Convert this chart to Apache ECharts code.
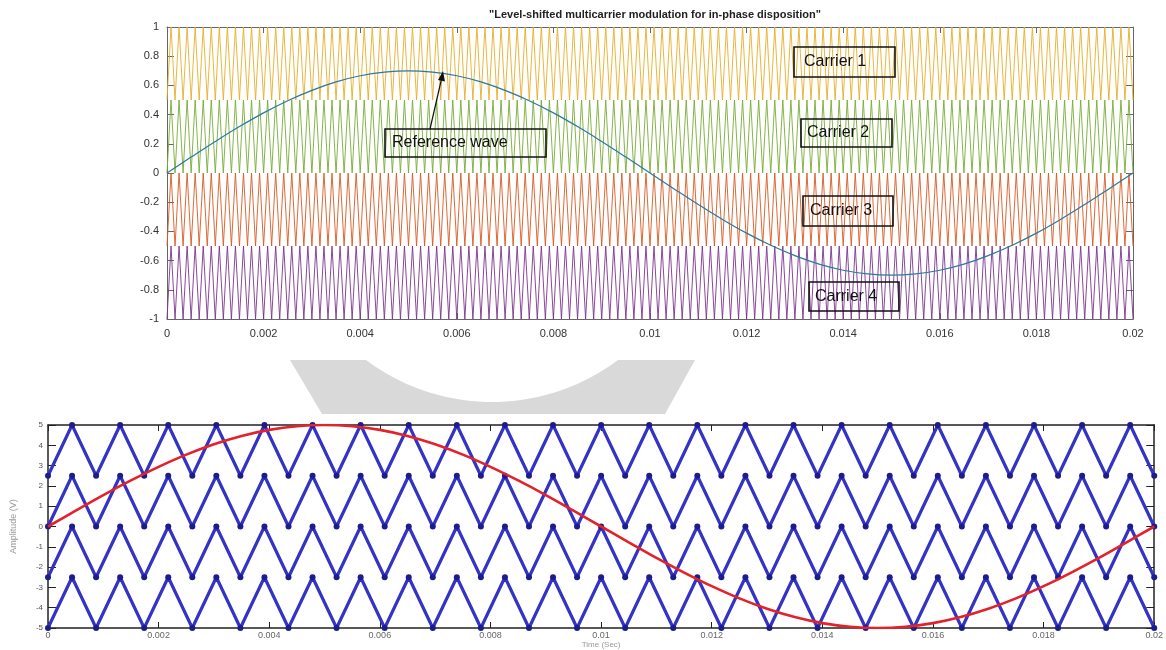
<!DOCTYPE html>
<html><head><meta charset="utf-8">
<script src="https://cdn.jsdelivr.net/npm/echarts@6/dist/echarts.min.js"></script>
<style>html,body{margin:0;padding:0;background:#fff}#c{width:1166px;height:650px}</style>
</head><body><div id="c"></div>
<script>
// ---------- data ----------
const titleText = '"Level-shifted multicarrier modulation for in-phase disposition"';
const xMax = 0.02;
const xTickLabels = ['0','0.002','0.004','0.006','0.008','0.01','0.012','0.014','0.016','0.018','0.02'];
const topYTickLabels = ['-1','-0.8','-0.6','-0.4','-0.2','0','0.2','0.4','0.6','0.8','1'];
const bottomYTickLabels = ['-5','-4','-3','-2','-1','0','1','2','3','4','5'];
const carrierNames = ['Carrier 1','Carrier 2','Carrier 3','Carrier 4'];
const topCarrierBands = [[0.5,1],[0,0.5],[-0.5,0],[-1,-0.5]];
const bottomCarrierBands = [[2.5,5],[0,2.5],[-2.5,0],[-5,-2.5]];
const topCarrierCycles = 120;
const bottomCarrierCycles = 23;
const refTimes = [0,0.0005,0.001,0.0015,0.002,0.0025,0.003,0.0035,0.004,0.0045,0.005,0.0055,0.006,0.0065,0.007,0.0075,0.008,0.0085,0.009,0.0095,0.01,0.0105,0.011,0.0115,0.012,0.0125,0.013,0.0135,0.014,0.0145,0.015,0.0155,0.016,0.0165,0.017,0.0175,0.018,0.0185,0.019,0.0195,0.02];
const topRefValues = [0,0.109,0.216,0.318,0.412,0.495,0.566,0.624,0.666,0.691,0.70,0.691,0.666,0.624,0.566,0.495,0.412,0.318,0.216,0.109,0,-0.109,-0.216,-0.318,-0.412,-0.495,-0.566,-0.624,-0.666,-0.691,-0.70,-0.691,-0.666,-0.624,-0.566,-0.495,-0.412,-0.318,-0.216,-0.109,0];
const bottomRefValues = [0,0.78,1.55,2.27,2.94,3.54,4.05,4.46,4.76,4.94,5,4.94,4.76,4.46,4.05,3.54,2.94,2.27,1.55,0.78,0,-0.78,-1.55,-2.27,-2.94,-3.54,-4.05,-4.46,-4.76,-4.94,-5,-4.94,-4.76,-4.46,-4.05,-3.54,-2.94,-2.27,-1.55,-0.78,0];

// ---------- helpers ----------
function carrierVertices(band, cycles){
  const pts = [];
  for (let k = 0; k <= 2*cycles; k++) pts.push([xMax*k/(2*cycles), k%2===0 ? band[0] : band[1]]);
  return pts;
}
function pairs(xs, ys){ return xs.map((x,i)=>[x, ys[i]]); }
function xLabel(v){ const i = Math.round(v/0.002); return xTickLabels[i] ?? ''; }
function yLabel(arr, step, min){ return v => arr[Math.round((v-min)/step)] ?? ''; }

const topColors = ['#E9AE2A','#79AC36','#D95A22','#7E3490'];
const font = 'Liberation Sans, Arial, sans-serif';

const series = [];
topCarrierBands.forEach((b,i)=>series.push({
  name: carrierNames[i], type:'line', xAxisIndex:0, yAxisIndex:0,
  data: carrierVertices(b, topCarrierCycles), showSymbol:false, silent:true,
  lineStyle:{color: topColors[i], width:1, opacity:0.9}, z:2
}));
series.push({name:'Reference wave', type:'line', xAxisIndex:0, yAxisIndex:0,
  data: pairs(refTimes, topRefValues), smooth:0.4, showSymbol:false,
  lineStyle:{color:'#2a7a9e', width:1.2}, z:5});
bottomCarrierBands.forEach((b,i)=>series.push({
  name: 'bc'+i, type:'line', xAxisIndex:2, yAxisIndex:2,
  data: carrierVertices(b, bottomCarrierCycles), symbol:'circle', symbolSize:6, showSymbol:true,
  itemStyle:{color:'#1c1c8c'}, lineStyle:{color:'#3434c4', width:3.2}, z:2
}));
series.push({name:'ref2', type:'line', xAxisIndex:2, yAxisIndex:2,
  data: pairs(refTimes, bottomRefValues), smooth:0.4, showSymbol:false,
  lineStyle:{color:'#e3222c', width:2.6}, z:5});

// watermark ring segment
const wm = [[290,360],[366,360]];
const a0 = Math.atan2(168,-126), a1 = Math.atan2(168,126);
for (let s=1; s<40; s++){ const a = a0 + (a1-a0)*s/40; wm.push([492+210*Math.cos(a), 192+210*Math.sin(a)]); }
wm.push([618,360],[695,360],[665,414],[322,414]);

function box(x,y,w,h,text,tx){
  return [
    {type:'rect', shape:{x,y,width:w,height:h}, style:{fill:'rgba(0,0,0,0)', stroke:'#111', lineWidth:1.6}, z:20},
    {type:'text', x: tx, y: y+h/2, style:{text, font:'16px '+font, fill:'#111', textVerticalAlign:'middle'}, z:21}
  ];
}

const topLine = {color:'#666', width:1};
const botLine = {color:'#222', width:1.5};
function xAx(grid, pos, line, labels, extra){
  return Object.assign({gridIndex:grid, type:'value', min:0, max:xMax, interval:0.002, position:pos,
    axisLine:{show:true, onZero:false, lineStyle:line},
    axisTick:{show:true, inside:true, length:6, lineStyle:{color:line.color}},
    axisLabel: labels, splitLine:{show:false}}, extra||{});
}
function yAx(grid, pos, min, max, step, line, tl, labels, extra){
  return Object.assign({gridIndex:grid, type:'value', min, max, interval:step, position:pos,
    axisLine:{show:true, onZero:false, lineStyle:line},
    axisTick:{show:true, inside:true, length:tl, lineStyle:{color:line.color}},
    axisLabel: labels, splitLine:{show:false}}, extra||{});
}

const option = {
  animation:false,
  backgroundColor:'#fff',
  title:{text:titleText, left:650, top:4, textAlign:'center',
    textStyle:{fontSize:11, fontWeight:'bold', color:'#222', fontFamily:font}},
  grid:[
    {left:167, top:27, width:966, height:292},
    {left:48, top:425, width:1110, height:207}
  ],
  xAxis:[
    xAx(0,'bottom',topLine,{formatter:xLabel, fontSize:11, color:'#333', margin:9, fontFamily:font}),
    xAx(0,'top',topLine,{show:false}),
    xAx(1,'bottom',botLine,{formatter:xLabel, fontSize:9, color:'#666', margin:3, fontFamily:font},
      {name:'Time (Sec)', nameLocation:'middle', nameGap:13, nameTextStyle:{fontSize:8, color:'#999', fontFamily:font}}),
    xAx(1,'top',botLine,{show:false})
  ],
  yAxis:[
    yAx(0,'left',-1,1,0.2,topLine,7,{formatter:yLabel(topYTickLabels,0.2,-1), fontSize:11, color:'#333', margin:8, fontFamily:font}),
    yAx(0,'right',-1,1,0.2,topLine,7,{show:false}),
    yAx(1,'left',-5,5,1,botLine,8,{formatter:yLabel(bottomYTickLabels,1,-5), fontSize:8, color:'#555', margin:5, fontFamily:font},
      {name:'Amplitude (V)', nameLocation:'middle', nameGap:30, nameRotate:90, nameTextStyle:{fontSize:9, color:'#999', fontFamily:font}}),
    yAx(1,'right',-5,5,1,botLine,8,{show:false})
  ],
  series,
  graphic:[
    {type:'polygon', shape:{points:wm}, style:{fill:'#d9d9d9'}, z:-10, silent:true},
    ...box(794,47,101,30,carrierNames[0],804),
    ...box(801,119,91,28,carrierNames[1],807),
    ...box(803,196,90,30,carrierNames[2],810),
    ...box(809,282,90,29,carrierNames[3],815),
    ...box(385,129,161,28,'Reference wave',392),
    {type:'line', shape:{x1:430, y1:129, x2:441.5, y2:79}, style:{stroke:'#111', lineWidth:1.2}, z:20},
    {type:'polygon', shape:{points:[[443,71],[445,81.6],[438,80]]}, style:{fill:'#111'}, z:20}
  ]
};
const chart = echarts.init(document.getElementById('c'), null, {renderer:'canvas'});
chart.setOption(option);
</script>
</body></html>
